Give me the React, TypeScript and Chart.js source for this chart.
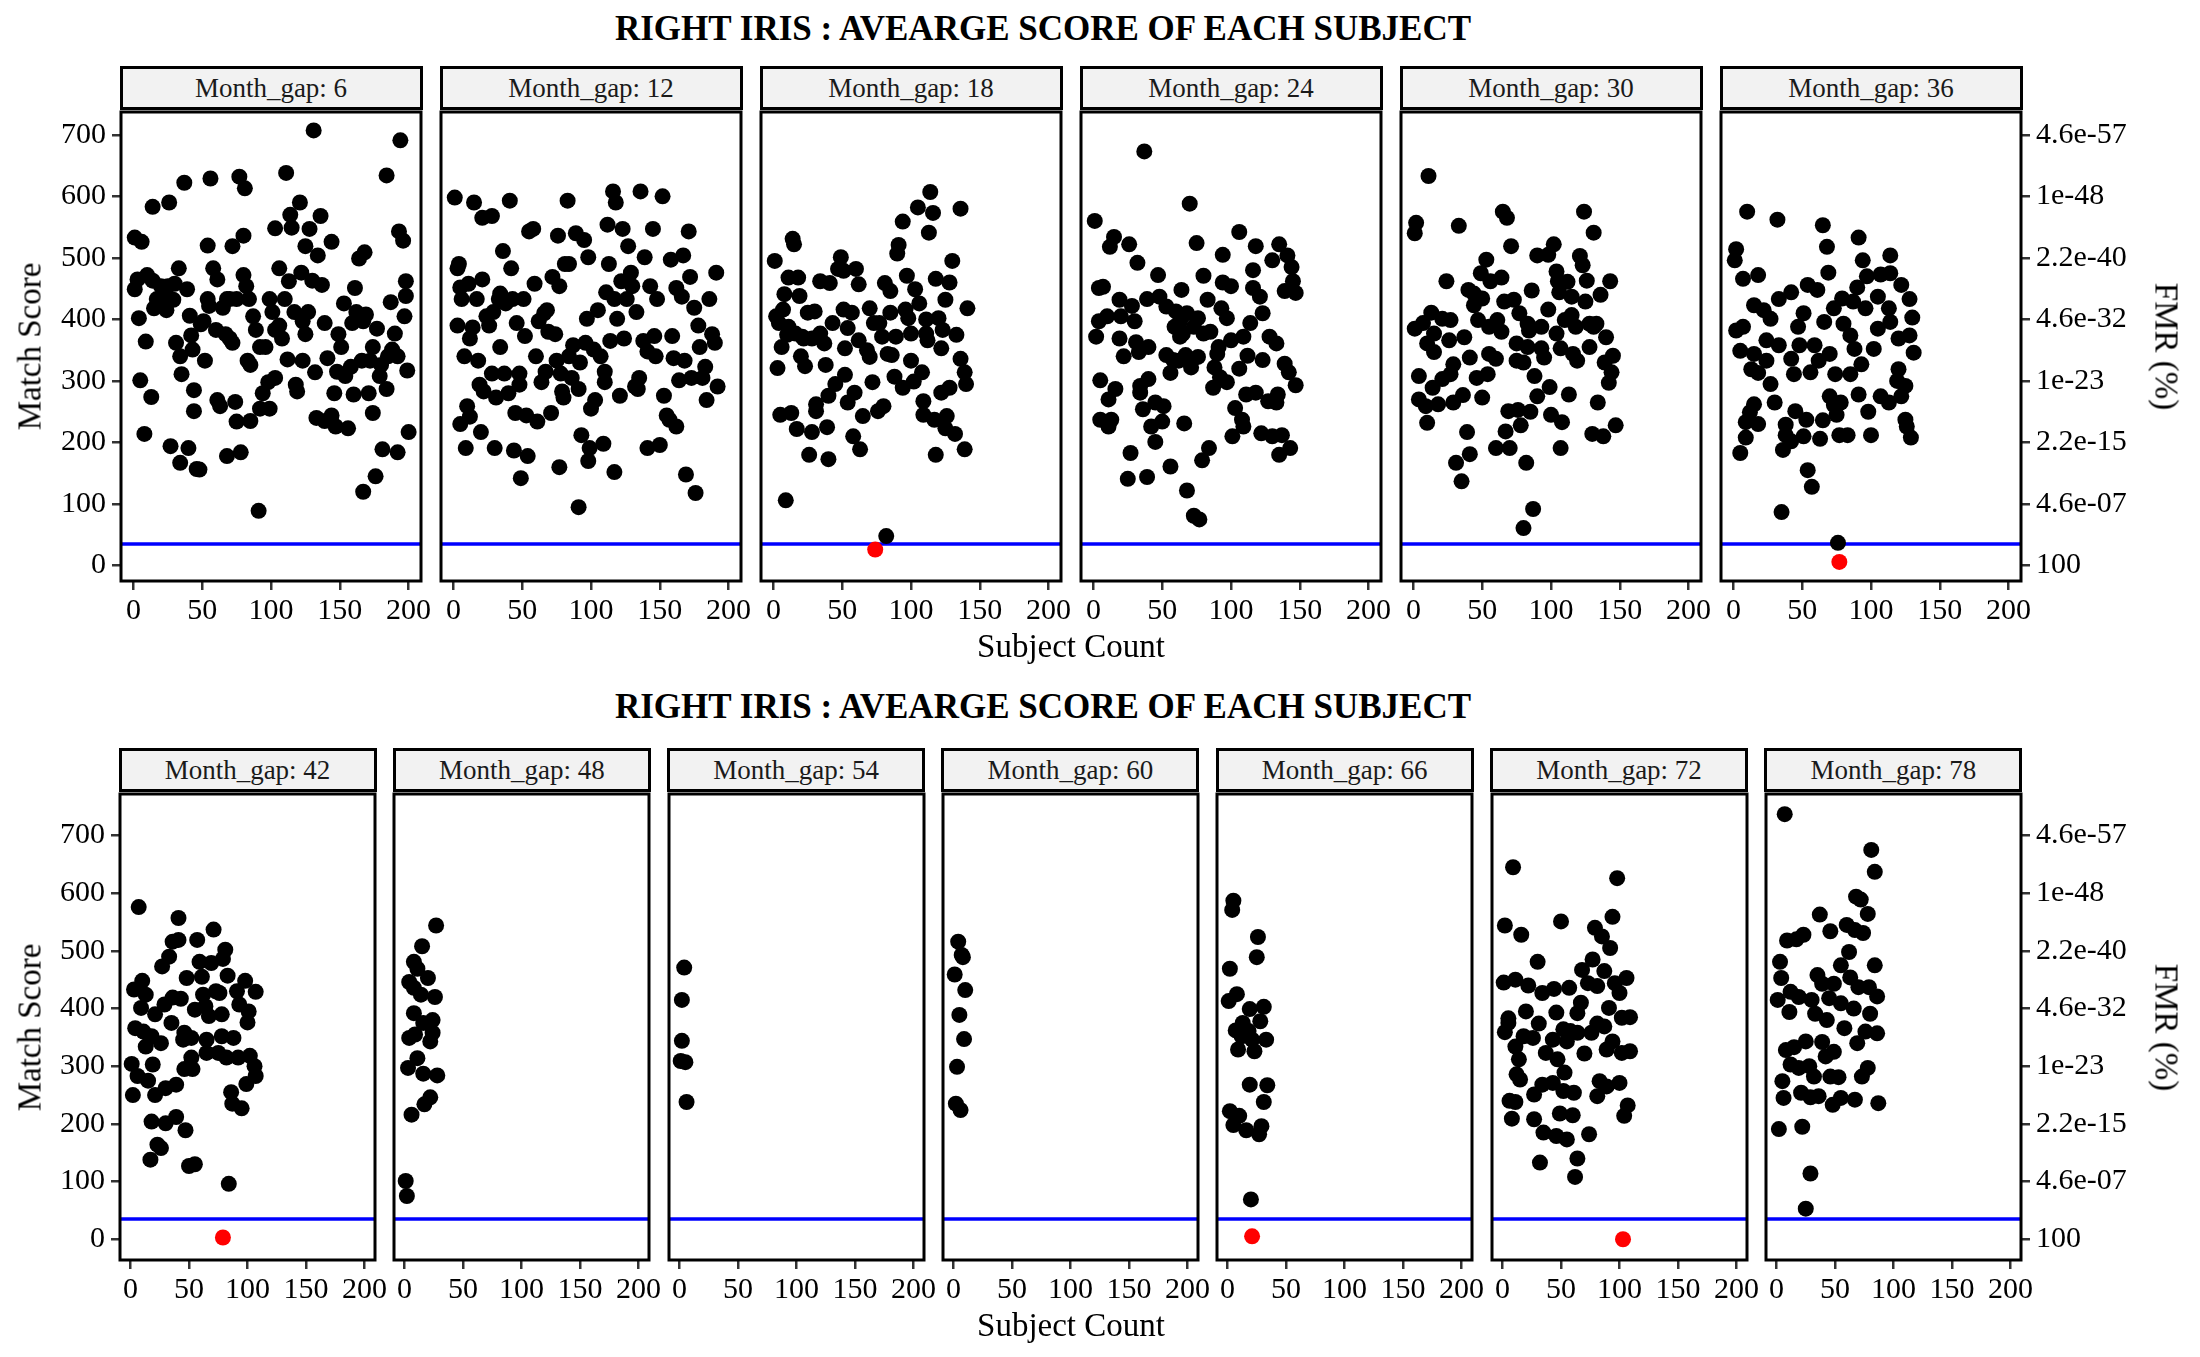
import React, { useEffect, useRef } from 'react';
import { Chart, registerables } from 'chart.js';

Chart.register(...registerables);

type Pt = [number, number];

const TITLE = 'RIGHT IRIS : AVEARGE SCORE OF EACH SUBJECT';
const X_TICKS = [0, 50, 100, 150, 200];
const Y_TICKS = [0, 100, 200, 300, 400, 500, 600, 700];
const FMR_LABELS = ['100', '4.6e-07', '2.2e-15', '1e-23', '4.6e-32', '2.2e-40', '1e-48', '4.6e-57'];
const THRESHOLD = 35;
const TOP_GAPS = [6, 12, 18, 24, 30, 36];
const BOTTOM_GAPS = [42, 48, 54, 60, 66, 72, 78];

// subject index, average match score
const GAP6: Pt[] = [
  [1, 533], [6, 526], [1, 449], [3, 465], [4, 402], [5, 301], [8, 214], [9, 364], [10, 472], [13, 274],
  [14, 463], [14, 583], [15, 418], [17, 433], [20, 454], [22, 446], [24, 426], [24, 415], [25, 454], [26, 590],
  [27, 194], [29, 432], [30, 458], [31, 362], [33, 483], [34, 340], [35, 311], [34, 167], [37, 622], [39, 449],
  [40, 191], [41, 406], [42, 374], [43, 351], [44, 251], [44, 285], [46, 157], [48, 156], [49, 392], [51, 397],
  [52, 333], [54, 520], [54, 433], [55, 422], [56, 629], [58, 483], [60, 383], [61, 465], [61, 269], [63, 259],
  [65, 419], [67, 376], [68, 178], [68, 433], [70, 369], [70, 433], [72, 362], [72, 519], [74, 266], [75, 234],
  [75, 433], [77, 632], [78, 184], [80, 536], [80, 472], [81, 613], [82, 454], [83, 333], [84, 433], [85, 235],
  [85, 326], [87, 405], [89, 383], [91, 89], [92, 355], [92, 255], [94, 280], [96, 355], [98, 298], [99, 255],
  [99, 433], [101, 412], [103, 383], [103, 305], [103, 548], [106, 483], [106, 390], [108, 369], [110, 433], [111, 638],
  [112, 335], [113, 462], [114, 570], [115, 549], [117, 412], [118, 294], [119, 283], [121, 590], [122, 476], [123, 333],
  [123, 397], [125, 376], [125, 519], [127, 412], [128, 547], [130, 463], [131, 707], [132, 314], [133, 240], [134, 504],
  [136, 568], [137, 456], [139, 235], [139, 394], [141, 337], [144, 244], [144, 526], [146, 280], [147, 226], [148, 315],
  [149, 376], [151, 355], [153, 426], [154, 308], [156, 223], [158, 323], [159, 394], [160, 278], [161, 451], [162, 412],
  [164, 499], [166, 333], [167, 397], [167, 120], [168, 509], [169, 408], [171, 280], [172, 333], [174, 248], [174, 355],
  [176, 145], [177, 385], [179, 308], [180, 326], [181, 189], [184, 287], [184, 634], [185, 340], [187, 428], [188, 351],
  [190, 377], [192, 340], [192, 184], [193, 543], [194, 691], [196, 528], [197, 405], [198, 438], [198, 462], [199, 317],
  [200, 217],
];

const GAP12: Pt[] = [
  [1, 598], [3, 483], [4, 490], [3, 390], [5, 452], [6, 433], [5, 230], [8, 340], [9, 191], [10, 259],
  [12, 242], [12, 369], [14, 387], [11, 458], [15, 590], [17, 433], [18, 333], [19, 294], [20, 217], [21, 565],
  [21, 465], [22, 283], [24, 405], [26, 390], [28, 312], [28, 568], [29, 412], [30, 191], [31, 273], [33, 433],
  [34, 442], [34, 355], [36, 511], [37, 312], [38, 426], [40, 280], [41, 593], [42, 483], [43, 433], [44, 187],
  [45, 248], [46, 394], [48, 294], [48, 312], [49, 142], [51, 433], [52, 373], [53, 244], [54, 178], [55, 543],
  [58, 547], [59, 458], [60, 340], [61, 234], [62, 397], [64, 298], [66, 410], [67, 315], [68, 415], [69, 380],
  [71, 248], [72, 469], [74, 376], [75, 333], [76, 536], [77, 454], [77, 160], [78, 312], [79, 283], [80, 273],
  [81, 490], [83, 593], [84, 340], [84, 490], [86, 305], [87, 358], [89, 540], [91, 287], [91, 95], [92, 330],
  [93, 212], [95, 529], [96, 362], [97, 401], [98, 170], [98, 501], [99, 191], [100, 255], [102, 351], [103, 269],
  [105, 415], [107, 340], [109, 198], [110, 315], [110, 298], [111, 444], [112, 554], [113, 490], [114, 365], [116, 608],
  [117, 152], [117, 433], [118, 590], [119, 401], [121, 276], [122, 462], [123, 547], [124, 369], [126, 433], [127, 519],
  [129, 476], [130, 454], [132, 291], [133, 412], [134, 287], [135, 305], [136, 608], [138, 365], [139, 501], [141, 348],
  [141, 191], [143, 454], [145, 547], [146, 373], [147, 340], [148, 433], [150, 196], [152, 600], [153, 276], [155, 244],
  [157, 237], [158, 497], [159, 373], [160, 337], [162, 226], [162, 451], [164, 301], [166, 437], [167, 504], [168, 333],
  [169, 148], [171, 543], [172, 469], [173, 305], [175, 419], [176, 118], [178, 390], [179, 355], [181, 305], [183, 323],
  [184, 269], [186, 433], [188, 376], [190, 362], [191, 476], [192, 291],
];

const GAP18: Pt[] = [
  [9, 106], [82, 48], [1, 495], [14, 531], [15, 522], [11, 468], [18, 468], [8, 441], [19, 438], [2, 405],
  [7, 416], [4, 394], [11, 388], [10, 375], [16, 377], [6, 355], [21, 372], [25, 411], [30, 413], [22, 369],
  [28, 369], [34, 377], [37, 361], [34, 462], [41, 459], [49, 501], [47, 482], [51, 479], [60, 482], [62, 457],
  [43, 394], [51, 416], [57, 411], [54, 386], [52, 353], [62, 366], [68, 350], [70, 339], [70, 418], [73, 394],
  [79, 372], [77, 394], [85, 411], [81, 459], [85, 446], [83, 344], [86, 342], [89, 372], [96, 416], [98, 402],
  [97, 471], [103, 449], [106, 426], [100, 333], [100, 377], [111, 400], [111, 377], [120, 402], [123, 383], [112, 366],
  [122, 353], [133, 375], [94, 559], [91, 521], [90, 507], [105, 582], [114, 607], [116, 573], [113, 541], [136, 580],
  [130, 495], [118, 466], [128, 460], [125, 432], [141, 418], [20, 340], [23, 324], [3, 321], [38, 326], [52, 310],
  [45, 295], [59, 281], [54, 265], [72, 298], [88, 307], [94, 289], [102, 299], [108, 314], [136, 336], [139, 314],
  [140, 295], [128, 289], [122, 281], [40, 276], [31, 262], [31, 251], [5, 245], [13, 248], [17, 222], [28, 217],
  [39, 225], [65, 243], [76, 251], [80, 259], [109, 267], [109, 245], [117, 237], [126, 243], [125, 223], [132, 214],
  [58, 210], [63, 189], [26, 180], [40, 173], [118, 180], [139, 189],
];

const GAP24: Pt[] = [
  [37, 673], [70, 588], [1, 560], [15, 534], [12, 518], [26, 522], [32, 492], [47, 472], [106, 542], [75, 524],
  [94, 505], [118, 519], [135, 522], [141, 504], [130, 496], [144, 485], [116, 480], [80, 471], [94, 460], [100, 454],
  [116, 451], [145, 462], [147, 443], [139, 446], [64, 448], [121, 437], [4, 451], [7, 453], [19, 432], [28, 422],
  [39, 433], [48, 437], [83, 432], [93, 418], [97, 402], [123, 410], [53, 421], [60, 413], [68, 410], [76, 402],
  [63, 397], [73, 388], [80, 377], [85, 380], [59, 388], [65, 377], [4, 397], [10, 405], [20, 405], [30, 397],
  [2, 372], [19, 369], [31, 363], [40, 355], [33, 347], [63, 372], [114, 394], [128, 372], [133, 361], [109, 372],
  [100, 366], [91, 355], [90, 344], [112, 341], [53, 342], [58, 334], [67, 342], [76, 339], [62, 333], [56, 313],
  [71, 322], [88, 322], [92, 306], [97, 298], [106, 320], [123, 334], [139, 328], [142, 314], [147, 293], [22, 340],
  [5, 301], [16, 287], [11, 270], [34, 292], [40, 303], [34, 281], [36, 254], [45, 265], [51, 259], [42, 226],
  [50, 234], [45, 201], [5, 237], [13, 237], [11, 226], [66, 231], [87, 289], [103, 256], [108, 237], [109, 226],
  [101, 210], [111, 278], [118, 281], [127, 267], [133, 265], [134, 278], [122, 215], [130, 210], [137, 212], [143, 191],
  [135, 180], [84, 191], [79, 171], [56, 161], [27, 183], [25, 141], [39, 144], [68, 122], [73, 81], [77, 75],
];

const GAP30: Pt[] = [
  [11, 633], [2, 557], [1, 540], [33, 552], [65, 575], [68, 565], [124, 575], [131, 541], [71, 519], [53, 497],
  [90, 504], [98, 505], [102, 522], [121, 503], [123, 488], [24, 462], [49, 475], [56, 462], [64, 468], [104, 478],
  [105, 462], [112, 461], [106, 444], [126, 463], [143, 462], [136, 440], [40, 448], [44, 442], [50, 434], [44, 423],
  [66, 429], [73, 432], [86, 447], [115, 437], [125, 429], [98, 416], [13, 411], [21, 401], [27, 399], [1, 385],
  [7, 394], [15, 377], [10, 361], [26, 366], [37, 371], [47, 399], [61, 399], [64, 380], [55, 388], [77, 410],
  [83, 393], [84, 382], [93, 388], [104, 377], [110, 399], [115, 407], [118, 388], [128, 393], [133, 393], [140, 371],
  [128, 355], [75, 361], [83, 355], [93, 353], [95, 338], [107, 353], [116, 344], [119, 333], [131, 388], [145, 341],
  [139, 330], [144, 314], [142, 297], [15, 347], [29, 327], [41, 338], [55, 344], [60, 336], [75, 333], [80, 330],
  [54, 311], [46, 305], [27, 311], [21, 303], [14, 289], [4, 308], [4, 270], [9, 259], [18, 262], [29, 265],
  [36, 277], [50, 273], [88, 308], [99, 290], [90, 275], [113, 278], [134, 265], [69, 251], [76, 253], [85, 250],
  [100, 245], [108, 233], [78, 228], [67, 218], [10, 232], [39, 217], [130, 214], [138, 210], [147, 228], [60, 191],
  [70, 191], [107, 191], [41, 181], [31, 167], [82, 167], [35, 137], [87, 92], [80, 61],
];

const GAP36: Pt[] = [
  [76, 37], [35, 87], [54, 155], [57, 128], [5, 183], [9, 208], [10, 575], [32, 562], [65, 553], [91, 533],
  [68, 518], [2, 514], [1, 496], [94, 496], [114, 504], [7, 466], [18, 472], [69, 476], [90, 452], [97, 470],
  [107, 473], [114, 475], [122, 456], [128, 433], [130, 403], [128, 374], [131, 346], [54, 456], [61, 448], [42, 444],
  [33, 433], [15, 423], [22, 415], [27, 401], [47, 388], [51, 410], [66, 396], [73, 418], [79, 434], [87, 429],
  [96, 418], [105, 437], [113, 418], [105, 385], [114, 396], [120, 369], [80, 393], [85, 374], [2, 382], [7, 388],
  [5, 349], [15, 344], [24, 366], [33, 358], [48, 358], [59, 358], [70, 344], [62, 333], [42, 336], [24, 333],
  [13, 319], [18, 313], [27, 295], [44, 311], [56, 314], [74, 311], [85, 311], [88, 352], [93, 327], [102, 352],
  [120, 319], [119, 300], [125, 292], [15, 262], [12, 249], [18, 230], [9, 233], [30, 265], [70, 275], [73, 261],
  [78, 265], [91, 278], [107, 275], [113, 265], [122, 275], [45, 251], [53, 237], [65, 236], [75, 245], [98, 250],
  [125, 237], [126, 226], [38, 229], [38, 212], [51, 210], [63, 206], [77, 212], [83, 212], [100, 212], [129, 208],
  [42, 202], [36, 188],
];

const GAP42: Pt[] = [
  [84, 96], [7, 576], [41, 557], [71, 537], [36, 516], [41, 519], [57, 519], [33, 490], [27, 473], [81, 502],
  [79, 486], [69, 479], [59, 481], [48, 453], [61, 455], [83, 457], [98, 448], [10, 448], [3, 433], [13, 424],
  [9, 401], [29, 407], [36, 419], [43, 417], [62, 424], [73, 430], [76, 427], [91, 430], [107, 429], [93, 407],
  [101, 395], [55, 398], [64, 404], [67, 387], [78, 390], [100, 376], [21, 390], [35, 375], [4, 366], [11, 360],
  [18, 352], [26, 340], [13, 334], [46, 358], [52, 349], [45, 346], [65, 346], [78, 352], [88, 349], [65, 323],
  [75, 323], [82, 315], [92, 315], [102, 318], [106, 300], [107, 283], [99, 269], [52, 315], [46, 295], [53, 295],
  [1, 304], [19, 303], [6, 283], [15, 275], [39, 268], [30, 262], [21, 250], [2, 250], [86, 255], [87, 235],
  [95, 227], [18, 204], [30, 201], [39, 212], [47, 189], [23, 164], [26, 158], [17, 138], [50, 127], [55, 130],
];

const GAP48: Pt[] = [
  [27, 544], [15, 508], [8, 481], [11, 469], [20, 453], [4, 446], [8, 436], [14, 424], [26, 420], [8, 392],
  [24, 380], [16, 375], [24, 358], [4, 349], [9, 355], [22, 343], [11, 314], [3, 297], [16, 287], [28, 284],
  [22, 246], [17, 234], [6, 216], [1, 101], [2, 75],
];

const GAP54: Pt[] = [[4, 471], [2, 415], [2, 344], [1, 309], [5, 307], [6, 238]];

const GAP60: Pt[] = [
  [4, 516], [7, 493], [8, 489], [1, 459], [10, 432], [5, 389], [9, 347], [3, 299], [2, 235], [6, 224],
];

const GAP66: Pt[] = [
  [20, 69], [5, 587], [4, 571], [26, 524], [25, 489], [2, 469], [8, 425], [1, 413], [19, 399], [31, 403],
  [28, 378], [13, 375], [7, 362], [12, 352], [18, 361], [21, 346], [33, 346], [9, 329], [23, 326], [19, 268],
  [34, 267], [31, 238], [2, 222], [10, 214], [5, 198], [16, 189], [29, 196], [27, 182],
];

const GAP72: Pt[] = [
  [9, 645], [98, 626], [2, 544], [16, 528], [50, 551], [94, 559], [79, 540], [85, 525], [92, 505], [30, 481],
  [77, 485], [68, 467], [87, 465], [1, 445], [11, 450], [22, 440], [34, 427], [44, 434], [57, 436], [73, 444],
  [81, 439], [96, 444], [106, 453], [100, 427], [67, 410], [64, 392], [91, 401], [102, 384], [109, 385], [20, 395],
  [46, 393], [5, 383], [5, 375], [31, 374], [2, 359], [18, 352], [26, 349], [52, 364], [58, 361], [64, 358],
  [76, 358], [81, 374], [87, 369], [43, 346], [55, 343], [94, 343], [11, 334], [89, 329], [102, 323], [109, 326],
  [37, 323], [47, 312], [70, 322], [14, 312], [53, 289], [12, 286], [15, 277], [34, 268], [43, 271], [83, 274],
  [89, 265], [100, 271], [27, 251], [52, 257], [61, 254], [81, 248], [6, 240], [11, 238], [8, 209], [107, 232],
  [104, 214], [27, 208], [49, 218], [60, 215], [35, 185], [46, 179], [55, 173], [74, 182], [32, 133], [64, 140],
  [62, 108],
];

const GAP78: Pt[] = [
  [7, 737], [81, 675], [84, 637], [68, 594], [72, 589], [78, 564], [37, 563], [60, 545], [67, 536], [74, 531],
  [46, 534], [23, 528], [17, 520], [9, 518], [62, 498], [55, 475], [84, 475], [3, 481], [4, 453], [35, 458],
  [39, 443], [49, 443], [63, 454], [70, 437], [79, 437], [86, 421], [1, 415], [12, 429], [19, 420], [30, 415],
  [45, 418], [55, 409], [66, 400], [11, 394], [33, 391], [43, 380], [58, 366], [80, 391], [76, 360], [86, 357],
  [69, 340], [25, 343], [39, 342], [8, 328], [15, 333], [49, 325], [42, 317], [12, 303], [19, 297], [28, 300],
  [32, 282], [46, 282], [53, 281], [78, 297], [73, 282], [5, 274], [6, 245], [21, 254], [29, 246], [36, 248],
  [48, 233], [55, 245], [67, 242], [87, 236], [2, 191], [22, 195], [29, 114], [25, 53],
];

// subjects whose score falls under the threshold
const RED18: Pt[] = [[74, 26]];
const RED36: Pt[] = [[77, 6]];
const RED42: Pt[] = [[79, 3]];
const RED66: Pt[] = [[21, 5]];
const RED72: Pt[] = [[103, 0]];

const TOP_POINTS: Pt[][] = [GAP6, GAP12, GAP18, GAP24, GAP30, GAP36];
const TOP_RED: Pt[][] = [[], [], RED18, [], [], RED36];
const BOTTOM_POINTS: Pt[][] = [GAP42, GAP48, GAP54, GAP60, GAP66, GAP72, GAP78];
const BOTTOM_RED: Pt[][] = [RED42, [], [], [], RED66, RED72, []];

const FONT = '"Liberation Serif", "Times New Roman", serif';
const X_MIN = -9;
const X_MAX = 209;
const EX = 30;
const ET = 30;
const PAD_B = 62;

interface PanelProps {
  pts: Pt[];
  red: Pt[];
  yMin: number;
  yMax: number;
  left: number;
  top: number;
  w: number;
  h: number;
  showLeft: boolean;
  showRight: boolean;
}

const tickGrid = {
  drawOnChartArea: false,
  drawTicks: true,
  tickLength: 9,
  color: '#333333',
  lineWidth: 2.5,
};

const Panel: React.FC<PanelProps> = ({ pts, red, yMin, yMax, left, top, w, h, showLeft, showRight }) => {
  const canvasRef = useRef<HTMLCanvasElement>(null);
  const padL = showLeft ? 80 : 0;
  const padR = showRight ? 130 : 0;
  const cw = EX + padL + w + padR + EX;
  const ch = ET + h + PAD_B;

  useEffect(() => {
    if (!canvasRef.current) return;
    const frame = {
      id: 'frame',
      afterDraw(chart: Chart) {
        const { ctx, chartArea } = chart;
        ctx.save();
        ctx.strokeStyle = '#000';
        ctx.lineWidth = 3;
        ctx.strokeRect(chartArea.left, chartArea.top, chartArea.right - chartArea.left, chartArea.bottom - chartArea.top);
        ctx.restore();
      },
    };
    const yTicks = (s: any) => {
      s.ticks = Y_TICKS.map(v => ({ value: v }));
    };
    const chart = new Chart(canvasRef.current, {
      type: 'scatter',
      data: {
        datasets: [
          {
            data: pts.map(([x, y]) => ({ x, y })),
            backgroundColor: '#000000',
            pointRadius: 8,
            pointBorderWidth: 0,
            order: 1,
          },
          {
            data: red.map(([x, y]) => ({ x, y })),
            backgroundColor: '#FF0000',
            pointRadius: 8,
            pointBorderWidth: 0,
            order: 0,
          },
          {
            type: 'line',
            data: [{ x: X_MIN, y: THRESHOLD }, { x: X_MAX, y: THRESHOLD }],
            borderColor: '#0000FF',
            borderWidth: 3.5,
            pointRadius: 0,
            order: 2,
          },
        ],
      },
      plugins: [frame],
      options: {
        animation: false,
        responsive: false,
        events: [],
        layout: { padding: { left: EX, right: EX, top: ET, bottom: 0 } },
        plugins: { legend: { display: false }, tooltip: { enabled: false } },
        scales: {
          x: {
            type: 'linear',
            min: X_MIN,
            max: X_MAX,
            afterBuildTicks: (s: any) => {
              s.ticks = X_TICKS.map(v => ({ value: v }));
            },
            afterFit: (s: any) => {
              s.height = PAD_B;
            },
            grid: tickGrid,
            border: { display: false },
            ticks: { font: { size: 30, family: FONT }, color: '#000', padding: 3, maxRotation: 0, autoSkip: false },
          },
          y: {
            type: 'linear',
            display: showLeft,
            position: 'left',
            min: yMin,
            max: yMax,
            afterBuildTicks: yTicks,
            afterFit: (s: any) => {
              s.width = padL;
            },
            grid: tickGrid,
            border: { display: false },
            ticks: { font: { size: 30, family: FONT }, color: '#000', padding: 6, autoSkip: false },
          },
          y2: {
            type: 'linear',
            display: showRight,
            position: 'right',
            min: yMin,
            max: yMax,
            afterBuildTicks: yTicks,
            afterFit: (s: any) => {
              s.width = padR;
            },
            grid: tickGrid,
            border: { display: false },
            ticks: {
              font: { size: 30, family: FONT },
              color: '#000',
              padding: 6,
              autoSkip: false,
              callback: (v: any) => FMR_LABELS[Y_TICKS.indexOf(Number(v))],
            },
          },
        },
      },
    });
    return () => chart.destroy();
  }, [pts, red, yMin, yMax, w, h, showLeft, showRight]);

  return (
    <canvas
      ref={canvasRef}
      width={cw}
      height={ch}
      style={{ position: 'absolute', left: left - padL - EX, top: top - ET, width: cw, height: ch }}
    />
  );
};

const Strip: React.FC<{ label: string; left: number; top: number; w: number }> = ({ label, left, top, w }) => (
  <div
    style={{
      position: 'absolute',
      left: left - 1.5,
      top,
      width: w + 3,
      height: 44,
      boxSizing: 'border-box',
      border: '3px solid #000',
      background: '#F2F2F2',
      font: `27px ${FONT}`,
      lineHeight: '38px',
      textAlign: 'center',
      color: '#1a1a1a',
    }}
  >
    {label}
  </div>
);

const Text: React.FC<{ text: string; cx: number; cy: number; size: number; bold?: boolean; rotate?: number }> = ({
  text, cx, cy, size, bold, rotate,
}) => (
  <div
    style={{
      position: 'absolute',
      left: cx - 600,
      top: cy - size / 2,
      width: 1200,
      height: size,
      lineHeight: `${size}px`,
      textAlign: 'center',
      font: `${bold ? 'bold ' : ''}${size}px ${FONT}`,
      color: '#000',
      whiteSpace: 'nowrap',
      transform: rotate ? `rotate(${rotate}deg)` : undefined,
    }}
  >
    {text}
  </div>
);

interface RowProps {
  gaps: number[];
  points: Pt[][];
  reds: Pt[][];
  x0: number;
  pitch: number;
  w: number;
  stripTop: number;
  plotTop: number;
  plotH: number;
  yMin: number;
  yMax: number;
  titleY: number;
  xTitleY: number;
}

const Row: React.FC<RowProps> = ({ gaps, points, reds, x0, pitch, w, stripTop, plotTop, plotH, yMin, yMax, titleY, xTitleY }) => {
  const midY = plotTop + plotH / 2;
  return (
    <>
      <Text text={TITLE} cx={1043} cy={titleY} size={35} bold />
      {gaps.map((g, i) => {
        const left = x0 + i * pitch;
        return (
          <React.Fragment key={g}>
            <Strip label={`Month_gap: ${g}`} left={left} top={stripTop} w={w} />
            <Panel
              pts={points[i]}
              red={reds[i]}
              yMin={yMin}
              yMax={yMax}
              left={left}
              top={plotTop}
              w={w}
              h={plotH}
              showLeft={i === 0}
              showRight={i === gaps.length - 1}
            />
          </React.Fragment>
        );
      })}
      <Text text="Match Score" cx={28} cy={midY} size={33} rotate={-90} />
      <Text text="FMR (%)" cx={2168} cy={midY} size={33} rotate={90} />
      <Text text="Subject Count" cx={1071} cy={xTitleY} size={33} />
    </>
  );
};

export default function App() {
  return (
    <div style={{ position: 'absolute', left: 0, top: 0, width: 2200, height: 1357, background: '#fff', overflow: 'hidden' }}>
      <Row
        gaps={TOP_GAPS}
        points={TOP_POINTS}
        reds={TOP_RED}
        x0={121}
        pitch={320}
        w={300}
        stripTop={66}
        plotTop={112}
        plotH={469}
        yMin={-25}
        yMax={737}
        titleY={26}
        xTitleY={644}
      />
      <Row
        gaps={BOTTOM_GAPS}
        points={BOTTOM_POINTS}
        reds={BOTTOM_RED}
        x0={120}
        pitch={274.3}
        w={255}
        stripTop={748}
        plotTop={794}
        plotH={466}
        yMin={-36}
        yMax={772}
        titleY={704}
        xTitleY={1323}
      />
    </div>
  );
}
